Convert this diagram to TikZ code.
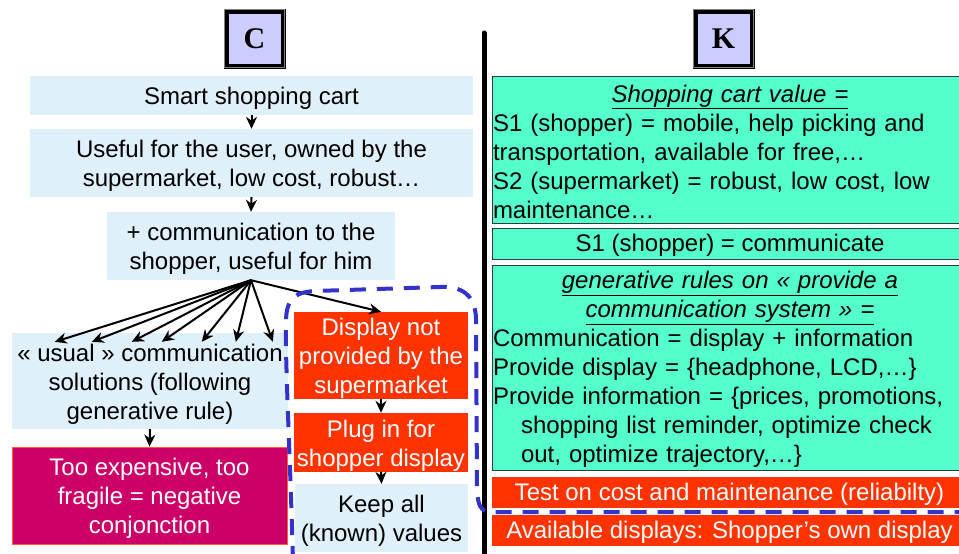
\documentclass[tikz,border=0pt]{standalone}
\usepackage{fontspec}
\setmainfont{Liberation Sans}
\newfontfamily\titleserif{Liberation Serif}
\usetikzlibrary{arrows.meta,calc}

\definecolor{paleblue}{RGB}{224,240,251}
\definecolor{aqua}{RGB}{85,255,204}
\definecolor{hotred}{RGB}{255,51,0}
\definecolor{crimson}{RGB}{204,0,102}
\definecolor{lavender}{RGB}{204,204,255}
\definecolor{dashblue}{RGB}{51,51,204}

\tikzset{
  txt/.style={font=\fontsize{24}{29}\selectfont, inner sep=0pt, align=center},
  ktxt/.style={txt, text width=474, align=left},
  cbox/.style={fill=paleblue, inner sep=0pt},
  redbox/.style={fill=hotred, inner sep=0pt},
  badbox/.style={fill=crimson, draw={rgb,255:red,255;green,90;blue,60}, line width=0.8pt, inner sep=0pt},
  kbox/.style={fill=aqua, draw={rgb,255:red,50;green,60;blue,55}, line width=0.8pt,
               minimum width=476, inner sep=0pt},
  kred/.style={fill=hotred, minimum width=476, inner sep=0pt},
  letterbox/.style={draw=black, line width=5pt, fill=lavender, minimum width=57, minimum height=55,
                    inner sep=0pt, font=\titleserif\bfseries\fontsize{30}{30}\selectfont},
  arr/.style={line width=2pt, -{Stealth[length=12pt,width=11pt]}},
  loop/.style={draw=dashblue, line width=4pt, dash pattern=on 16pt off 11pt},
}

\begin{document}
\begin{tikzpicture}[x=1pt, y=-1pt]
\useasboundingbox (0,0) rectangle (959,554);
\fill[white] (0,0) rectangle (959,554);

% ---------- C side ----------
\node[letterbox] (C) at (254.5,38.5) {C};
\draw[gray, line width=0.6pt] ($(C.north west)+(1.2,1.2)$) rectangle ($(C.south east)+(-1.2,-1.2)$);

\node[cbox, minimum width=443, minimum height=39] (smart) at (251.5,95.5) {};
\node[cbox, minimum width=443, minimum height=68] (useful) at (251.5,163) {};
\node[cbox, minimum width=288, minimum height=68] (comm) at (251,246) {};
\node[cbox, minimum width=276, minimum height=96] (usual) at (150,381) {};
\node[badbox, minimum width=275, minimum height=97] (expensive) at (149.5,495.5) {};
\node[redbox, minimum width=174, minimum height=87] (display) at (381,355.5) {};
\node[redbox, minimum width=174, minimum height=59] (plug) at (381,442.5) {};
\node[cbox, minimum width=173, minimum height=68] (keep) at (381.5,518) {};

\node[txt] (smart-t) at ($(smart.center)+(0,3)$) {Smart shopping cart};
\node[txt] (useful-t) at ($(useful.center)+(0,3)$)
  {Useful for the user, owned by the\\supermarket, low cost, robust…};
\node[txt] (comm-t) at ($(comm.center)+(0,3)$)
  {+ communication to the\\shopper, useful for him};
\node[txt] (usual-t) at ($(usual.center)+(0,3)$)
  {«~usual~» communication\\solutions (following\\generative rule)};
\node[txt, text=white] (expensive-t) at ($(expensive.center)+(0,3)$)
  {Too expensive, too\\fragile = negative\\conjonction};
\node[txt, text=white] (display-t) at ($(display.center)+(0,3)$)
  {Display not\\provided by the\\supermarket};
\node[txt, text=white] (plug-t) at ($(plug.center)+(0,3)$)
  {Plug in for\\shopper display};
\node[txt] (keep-t) at ($(keep.center)+(0,3)$)
  {Keep all\\(known) values};

\draw[arr] (smart.south) -- (useful.north);
\draw[arr] (useful.south) -- (comm.north);
\draw[arr] (usual.south) -- (expensive.north);
\draw[arr] (display.south -| plug.north) -- (plug.north);
\draw[arr] (plug.south) -- (keep.north);

% fan of generative branches
\coordinate (fan) at (comm.south);
\foreach \dx [count=\i] in {43,80,120,150,190,224,261}
  \coordinate (u\i) at ($(usual.north west)+(\dx,9)$);
\foreach \i in {1,...,7}
  \draw[arr] (fan) -- (u\i);
\draw[arr] (fan) -- (display.north);

% ---------- divider ----------
\coordinate (divtop) at (484,33);
\coordinate (divbot) at (484,560);
\draw[line width=5pt, line cap=round] (divtop) -- (divbot);

% ---------- K side ----------
\node[letterbox] (K) at (723.5,38.5) {K};
\draw[gray, line width=0.6pt] ($(K.north west)+(1.2,1.2)$) rectangle ($(K.south east)+(-1.2,-1.2)$);

\node[kbox, minimum height=147] (value) at (730,149.5) {};
\node[kbox, minimum height=31] (s1) at (730,243.5) {};
\node[kbox, minimum height=205] (gen) at (730,367.5) {};
\node[kred, minimum height=31] (test) at (729.5,492.5) {};
\node[kred, minimum height=31] (avail) at (729.5,530.5) {};

\node[ktxt] (value-t) at ($(value.center)+(0,2)$)
  {\hfil\underline{\textit{Shopping cart value =}}\hfil\\
   S1 (shopper) = mobile, help picking and\\
   transportation, available for free,…\\
   S2 (supermarket) = robust, low cost, low\\
   maintenance…};
\node[txt] (s1-t) at ($(s1.center)+(0,2)$) {S1 (shopper) = communicate};
\node[ktxt] (gen-t) at ($(gen.center)+(0,2)$)
  {\hfil\underline{\textit{generative rules on «~provide a}}\hfil\\
   \hfil\underline{\textit{communication system »~=}}\hfil\\
   Communication = display + information\\
   Provide display = \{headphone, LCD,…\}\\
   Provide information = \{prices, promotions,\\
   \hspace*{28pt}shopping list reminder, optimize check\\
   \hspace*{28pt}out, optimize trajectory,…\}};
\node[txt, text=white] (test-t) at ($(test.center)+(0,2)$)
  {Test on cost and maintenance (reliabilty)};
\node[txt, text=white] (avail-t) at ($(avail.center)+(0,2)$)
  {Available displays: Shopper’s own display};

% ---------- dashed boundary of the chosen path ----------
\draw[loop] (293,562) .. controls (290,450) and (285,360) .. (286,322)
  .. controls (286,300) and (294,292) .. (315,291)
  -- (440,287) .. controls (462,286) and (475,295) .. (476,318)
  -- (477,490) .. controls (478,505) and (480,512) .. (492,512)
  -- (966,512);
\end{tikzpicture}
\end{document}
